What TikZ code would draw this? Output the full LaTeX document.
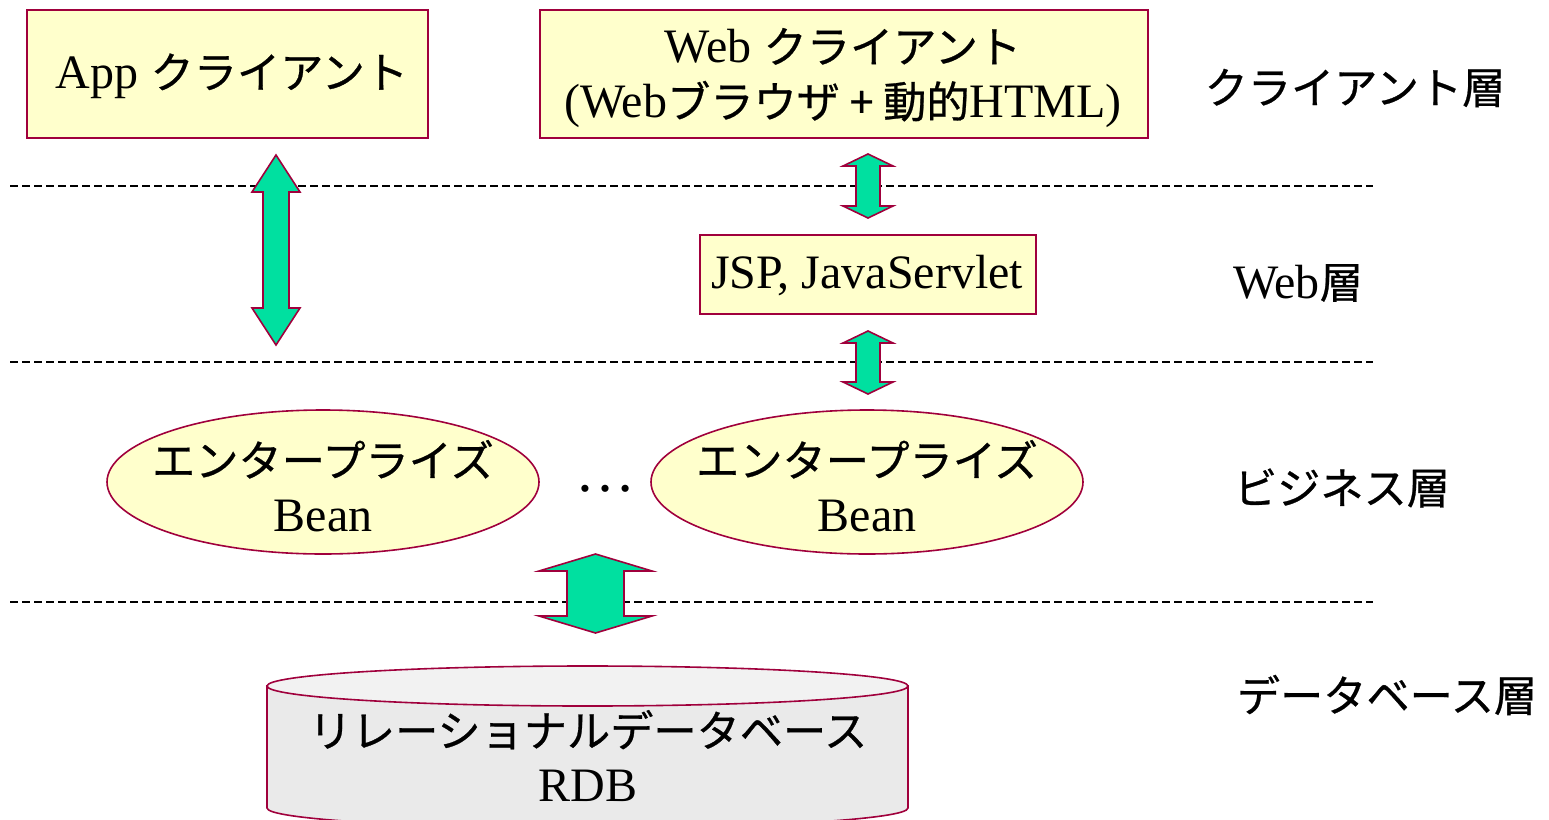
\documentclass[tikz,border=0pt]{standalone}
\usepackage{fontspec}
\setmainfont{Liberation Serif}
\newfontfamily\jp{Noto Sans CJK JP}[Scale=0.9, FakeBold=0.6]
\usetikzlibrary{shapes.geometric}

\definecolor{edge}{RGB}{160,0,60}
\definecolor{boxfill}{RGB}{255,255,204}
\definecolor{arrowfill}{RGB}{0,224,160}
\definecolor{dbfill}{RGB}{234,234,234}
\definecolor{dbtop}{RGB}{242,242,242}

\tikzset{
  txt/.style={font=\fontsize{48}{55}\selectfont, align=center, inner sep=0pt},
  box/.style={draw=edge, line width=1.6pt, fill=boxfill, inner sep=0pt},
  bean/.style={ellipse, draw=edge, line width=1.6pt, fill=boxfill,
               minimum width=432pt, minimum height=144pt, inner sep=0pt},
  blockarrow/.style={draw=edge, line width=1.6pt, fill=arrowfill, line join=miter},
  layersep/.style={line width=1.2pt, dash pattern=on 8pt off 4pt},
  layername/.style={txt, anchor=center},
}

% vertical double block arrow: centre x, top y, bottom y, half shaft, half head, head length
\newcommand\dblarrow[6]{%
  \filldraw[blockarrow] (#1,#2) -- (#1+#5,#2+#6) -- (#1+#4,#2+#6) -- (#1+#4,#3-#6)
    -- (#1+#5,#3-#6) -- (#1,#3) -- (#1-#5,#3-#6) -- (#1-#4,#3-#6)
    -- (#1-#4,#2+#6) -- (#1-#5,#2+#6) -- cycle;}

\begin{document}
\begin{tikzpicture}[x=1pt, y=-1pt]
\useasboundingbox (0,0) rectangle (1549,819);

% layer boundaries
\draw[layersep] (10,186) coordinate (s1a) -- (1373,186) coordinate (s1b);
\draw[layersep] (10,362) coordinate (s2a) -- (1373,362) coordinate (s2b);
\draw[layersep] (10,602) coordinate (s3a) -- (1373,602) coordinate (s3b);

% client layer
\node[box, minimum width=401pt, minimum height=128pt] (app) at (227.5,74) {};
\node[txt] (apptxt) at (232,76) {App {\jp クライアント}};
\node[box, minimum width=608pt, minimum height=128pt] (web) at (844,74) {};
\node[txt] (webtxt) at (843,78) {Web {\jp クライアント}\\(Web{\jp ブラウザ + 動的}HTML)};

% web layer
\node[box, minimum width=336pt, minimum height=79pt] (jsp) at (868,274.5) {};
\node[txt] (jsptxt) at (867,276) {JSP, JavaServlet};

% business layer
\node[bean] (bean1) at (323,482) {};
\node[txt] (bean1txt) at (323,486) {{\jp エンタープライズ}\\Bean};
\node[bean] (bean2) at (867,482) {};
\node[txt] (bean2txt) at (867,486) {{\jp エンタープライズ}\\Bean};
\node[txt] (dots) at (605,489) {\fontsize{60}{60}\selectfont …};

% database
\filldraw[draw=edge, line width=1.6pt, fill=dbfill]
  (267,686) -- (267,808) arc[start angle=180, end angle=0, x radius=320.5, y radius=20]
  -- (908,686) -- cycle;
\filldraw[draw=edge, line width=1.6pt, fill=dbtop] (587.5,686) ellipse[x radius=320.5, y radius=20];
\node[txt] (db) at (588,756) {{\jp リレーショナルデータベース}\\RDB};

% block arrows between tiers
\dblarrow{276}{155}{345}{13}{24}{37}
\dblarrow{868}{154}{218}{12}{25}{12}
\dblarrow{868}{331}{394}{12}{25}{12}
\dblarrow{595.5}{554}{633}{28.5}{56.5}{17}

% tier names
\node[layername] (l1) at (1355,88) {\jp クライアント層};
\node[layername] (l2) at (1298,283) {Web{\jp 層}};
\node[layername] (l3) at (1342,488) {\jp ビジネス層};
\node[layername] (l4) at (1387,695) {\jp データベース層};
\end{tikzpicture}
\end{document}
